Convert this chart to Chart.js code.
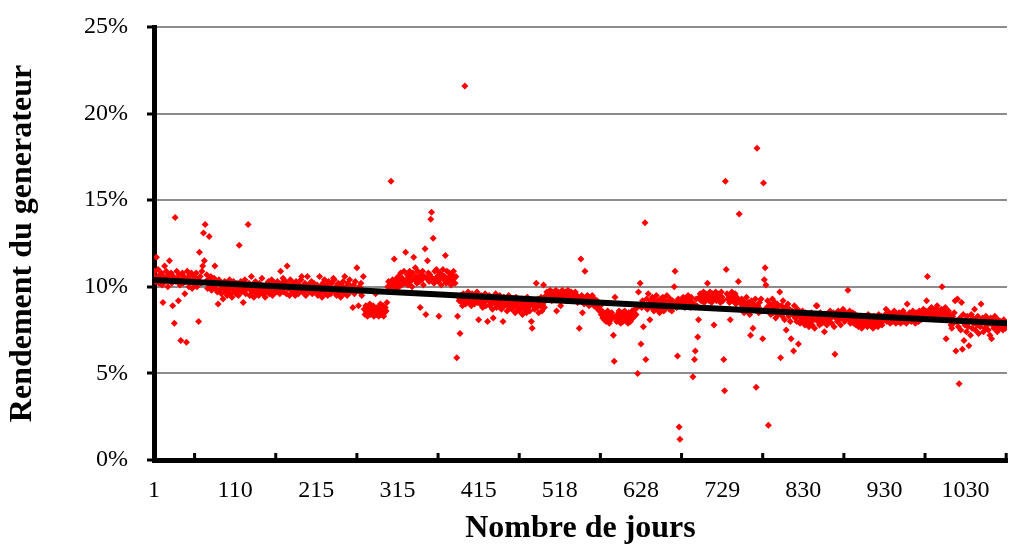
<!DOCTYPE html>
<html>
<head>
<meta charset="utf-8">
<script src="https://cdn.jsdelivr.net/npm/chart.js@4.4.0/dist/chart.umd.min.js"></script>
<style>
	html, body { margin: 0; padding: 0; background: #fff; }
	#wrap { width: 1011px; height: 548px; }
</style>
</head>
<body>
<div id="wrap"><canvas id="myChartRendement"></canvas></div>
<script>
// rendement du generateur (%), un point par jour
const rendement = [
	10.6,10.9,10.3,11.7,10.5,11.0,10.2,10.7,10.4,10.8, 10.1,9.1,10.6,11.2,10.3,10.9,10.5,10.0,10.7,11.5, 10.4,10.8,10.2,8.9,10.6,7.9,14.0,10.3,10.9,10.5, 9.2,10.7,10.1,6.9,10.4,10.8,10.2,10.6,9.6,10.3, 6.8,10.9,10.5,10.0,10.7,10.3,10.8,9.9,10.4,10.6,
	10.1,10.5,10.8,10.0,10.4,8.0,12.0,10.6,10.2,10.9, 11.2,13.1,11.5,13.6,10.3,10.7,9.9,10.4,12.9,10.1, 10.6,9.8,10.3,10.0,10.5,11.2,9.9,10.2,9.7,9.0, 10.4,9.8,10.1,9.6,10.0,9.3,9.9,10.3,9.7,10.0, 9.5,10.2,9.8,10.4,9.6,10.0,9.4,9.9,10.3,9.7,
	10.0,9.6,10.2,9.8,9.5,12.4,9.9,10.3,9.7,10.0, 9.1,9.8,10.4,9.6,10.1,9.9,13.6,10.2,9.5,9.8, 10.6,9.7,10.0,9.4,9.9,10.3,9.6,10.1,9.8,9.5, 10.2,9.9,9.7,10.5,9.6,10.0,9.8,9.4,10.1,9.7, 9.9,10.3,9.6,10.0,9.8,10.4,9.5,9.9,10.2,9.7,
	10.0,9.7,10.3,9.8,10.1,9.6,10.9,10.2,9.9,10.5, 9.7,10.0,10.3,9.6,11.2,9.9,10.1,9.5,10.4,9.8, 10.0,9.7,10.2,9.9,9.5,10.3,9.8,10.0,9.6,10.1, 9.9,10.4,10.6,9.7,10.0,9.8,10.2,9.5,9.9,10.6, 10.1,9.7,10.0,9.8,10.3,9.6,9.9,10.2,9.7,10.0,
	9.8,10.1,9.5,9.9,10.6,9.7,10.0,9.4,10.2,9.8, 10.4,9.6,9.9,10.1,9.5,10.3,9.8,10.0,9.6,10.2, 9.9,10.5,10.4,9.7,10.0,9.5,9.9,10.2,9.7,10.0, 9.4,10.1,9.8,10.3,9.6,10.6,9.9,10.0,9.5,10.2, 9.8,10.4,9.7,10.0,9.9,8.8,10.1,9.6,10.3,9.8,
	11.1,9.9,8.9,10.0,9.7,10.2,9.5,9.8,10.6,8.7, 8.4,8.9,8.5,8.3,8.8,8.6,9.0,8.4,8.7,8.5, 8.9,8.3,8.6,9.6,8.4,8.8,8.5,8.3,8.7,9.0, 8.4,8.6,8.9,8.3,8.5,8.8,8.6,9.1,10.0,10.3, 9.9,10.2,16.1,10.0,10.4,10.1,11.6,10.3,9.9,10.5,
	10.2,10.6,10.0,10.4,10.8,10.1,10.5,10.3,10.9,10.2, 12.0,10.4,10.7,10.1,10.5,10.9,10.3,10.6,10.0,10.8, 11.7,10.4,11.1,10.6,10.2,10.9,10.5,10.3,8.8,10.7, 10.4,10.9,10.1,10.6,12.2,8.4,10.5,11.5,10.8,10.3, 10.7,13.9,14.3,10.5,12.8,10.2,10.9,10.4,11.0,10.6,
	10.3,8.3,10.8,10.5,10.1,10.7,11.0,10.4,10.6,11.8, 10.2,10.9,10.5,10.3,10.8,10.6,10.1,10.7,10.4,10.9, 10.5,10.2,10.6,5.9,8.3,9.4,9.2,7.3,9.5,9.1, 8.9,9.6,9.3,21.6,9.0,9.5,9.2,9.7,9.1,9.4, 9.3,8.9,9.6,9.2,9.5,9.0,9.4,9.3,9.7,9.1,
	8.1,9.3,9.0,9.5,9.2,8.8,9.4,9.1,9.6,8.9, 9.3,8.0,9.2,9.5,8.9,9.1,9.4,8.7,8.2,9.2, 9.0,9.6,8.8,9.3,9.1,8.9,9.5,9.0,8.7,9.2, 8.0,9.4,8.9,9.1,9.3,8.6,9.0,9.5,8.8,9.2, 9.0,8.7,9.3,8.9,9.1,8.5,9.4,8.8,9.0,9.2,
	8.6,9.1,8.8,9.3,8.4,9.0,8.7,9.2,8.9,8.5, 9.4,8.8,9.1,8.6,9.0,8.0,7.6,8.9,9.2,8.7, 9.0,10.2,8.8,9.3,8.5,9.1,8.9,9.4,8.6,9.0, 10.1,8.8,9.2,9.5,9.7,9.3,9.6,9.4,9.8,9.5, 9.2,9.7,9.4,9.6,9.3,9.8,8.6,9.5,9.7,9.4,
	9.6,8.9,9.5,9.8,9.3,9.6,9.4,9.7,9.2,9.5, 9.8,9.4,9.6,9.3,9.7,9.5,9.2,9.6,9.4,9.7, 9.3,9.5,9.1,9.4,7.6,9.2,11.6,9.5,8.5,9.3, 9.0,10.9,9.4,9.1,9.5,9.2,8.9,9.4,9.3,9.0, 9.5,9.2,8.9,9.3,9.1,8.8,9.2,8.7,9.0,8.6,
	8.9,8.4,8.6,8.2,8.5,8.1,8.4,8.0,8.3,8.6, 8.2,7.9,8.4,8.1,8.5,8.3,7.2,5.7,9.4,8.2, 8.0,8.4,8.1,8.6,8.3,7.9,8.2,8.5,8.0,8.3, 8.6,8.1,8.4,8.2,7.9,8.5,8.3,8.0,8.4,8.6, 8.2,8.5,8.3,8.7,8.4,8.8,5.0,9.7,8.9,10.2,
	6.7,8.8,9.2,7.7,8.9,13.7,5.8,9.3,8.7,9.6, 9.0,8.1,9.2,8.8,9.4,9.3,8.6,9.1,8.9,9.5, 8.7,9.2,9.0,8.5,9.3,8.8,9.1,9.4,8.6,9.0, 9.2,8.8,9.5,8.9,9.1,8.7,9.3,9.0,8.6,9.2, 8.9,10.0,10.9,9.1,8.8,6.0,9.3,1.9,1.2,9.0,
	9.2,8.9,9.4,9.0,8.8,9.3,9.1,8.9,9.5,9.0, 9.2,8.8,9.4,9.1,4.8,9.0,5.8,6.3,9.3,8.9, 7.1,8.1,9.4,9.6,9.2,9.5,9.3,9.7,9.1,9.4, 9.6,9.3,10.2,9.5,9.2,9.7,9.4,9.1,9.6,9.3, 7.8,9.5,9.7,9.2,9.4,9.6,9.3,9.5,9.1,9.7,
	9.4,9.2,5.8,4.0,16.1,11.0,9.6,9.3,9.5,9.1, 8.1,9.4,9.7,9.2,9.5,9.3,9.6,9.0,9.4,9.2, 10.3,14.2,9.1,8.7,9.3,8.9,9.2,8.5,9.0,8.8, 9.4,8.6,9.1,8.9,8.4,7.2,9.2,8.7,7.6,9.0, 8.8,9.3,4.2,18.0,8.9,8.5,9.1,8.7,9.3,8.6,
	7.0,16.0,10.4,11.1,10.1,8.8,9.2,2.0,8.6,9.0, 8.4,8.9,9.3,8.5,8.7,9.1,8.2,8.8,9.0,8.4, 8.6,9.7,5.9,8.9,8.3,9.2,8.7,8.1,8.8,7.5, 8.5,9.0,8.3,8.7,8.0,7.0,8.6,8.4,6.3,8.9, 8.2,8.5,8.0,8.7,6.7,8.3,7.9,8.4,8.1,8.6,
	8.0,8.3,7.8,8.5,8.1,7.9,8.4,7.7,8.2,8.0, 8.5,7.8,8.3,8.1,7.6,8.4,8.9,8.9,8.0,8.2, 7.8,8.5,8.1,7.9,8.3,8.0,7.4,8.2,8.4,7.8, 8.1,8.4,8.0,8.6,8.2,7.9,8.3,8.5,7.7,6.1, 8.2,8.4,8.0,8.6,8.1,8.3,7.8,8.5,8.2,8.7,
	8.3,8.0,8.5,8.2,8.4,9.8,8.1,8.6,7.9,8.3, 8.2,8.5,7.9,8.1,8.4,7.8,8.2,8.0,7.7,8.3, 7.9,8.1,7.6,8.2,8.0,7.8,8.3,7.9,8.1,7.7, 8.4,8.0,7.8,8.2,7.9,8.1,7.6,8.3,8.0,7.8, 8.2,8.0,7.7,8.4,7.9,8.1,8.3,7.8,8.0,8.2,
	8.1,8.4,8.7,8.0,8.3,8.1,8.5,7.9,8.2,8.4, 8.0,8.3,8.6,8.1,7.9,8.4,8.2,8.0,8.5,8.2, 7.9,8.3,8.1,8.6,8.0,8.4,8.2,7.9,9.0,8.3, 8.1,8.5,8.2,8.0,8.4,8.6,8.1,8.3,7.9,8.5, 8.2,8.4,8.0,8.6,8.3,8.1,8.5,8.2,8.7,8.4,
	8.3,8.6,9.2,10.6,8.5,8.2,8.7,8.4,8.8,8.3, 8.5,8.6,8.2,8.7,8.4,8.9,8.3,8.6,8.5,8.2, 8.7,10.0,8.4,8.6,8.3,8.8,7.0,8.5,8.2,8.6, 8.4,8.1,7.8,7.6,8.3,7.9,8.5,9.2,6.3,8.0, 9.3,7.7,4.4,8.2,7.5,9.1,6.4,8.4,6.9,7.8,
	8.1,7.4,8.3,7.7,6.6,8.0,7.2,8.4,7.6,8.2, 7.9,8.7,7.5,8.1,7.8,8.3,7.3,8.0,7.7,9.0, 7.9,8.2,7.4,8.0,7.6,8.3,7.8,8.1,7.5,7.9, 7.2,8.2,7.0,7.8,8.0,7.6,8.3,7.7,7.9,7.4, 8.1,7.8,7.6,8.0,7.7,7.9,7.5,8.1,7.8,7.6,
	7.9,7.7
];

// jours affiches sous l'axe (un tous les 100 points)
const tickLabels = ["1", "110", "215", "315", "415", "518", "628", "729", "830", "930", "1030"];

// courbe de tendance lineaire (debut, fin)
const tendance = [10.4, 7.9];

const dernier = rendement.length - 1;

// petits traits vers l'interieur sur l'axe des x
const ticksInternes = {
	id: "ticksInternes",
	afterDraw(chart) {
		const x = chart.scales.x;
		const c = chart.ctx;
		const bas = chart.chartArea.bottom;
		c.save();
		c.fillStyle = "#000";
		for (let v = 50; v <= x.max; v += 100) {
			const px = x.getPixelForValue(v);
			c.fillRect(px - 1.5, bas - 7, 3, 7);
		}
		c.restore();
	}
};

const ctx = document.getElementById("myChartRendement");

new Chart(ctx, {
	type: "scatter",
	data: {
		datasets: [
			{
				type: "line",
				data: [
					{ x: 0, y: tendance[0] },
					{ x: dernier, y: tendance[1] }
				],
				borderColor: "#000",
				borderWidth: 6,
				borderCapStyle: "butt",
				pointRadius: 0,
				order: 0
			},
			{
				label: "rendement",
				data: rendement.map((y, i) => ({ x: i, y: y })),
				pointStyle: "rectRot",
				pointRadius: 3.5,
				backgroundColor: "#ff0000",
				borderColor: "#ff0000",
				borderWidth: 0,
				order: 1
			}
		]
	},
	options: {
		responsive: true,
		maintainAspectRatio: false,
		animation: false,
		layout: {
			padding: { top: 27, right: 0, bottom: 0, left: 0 }
		},
		plugins: {
			legend: { display: false },
			tooltip: { enabled: false }
		},
		scales: {
			x: {
				type: "linear",
				min: 0,
				max: dernier,
				grid: { display: true, color: "rgba(0,0,0,0)", drawTicks: false },
				border: { display: true, color: "#000", width: 5 },
				afterBuildTicks: (s) => {
					s.ticks = tickLabels.map((t, i) => ({ value: i * 100 }));
				},
				ticks: {
					autoSkip: false,
					maxRotation: 0,
					padding: 16,
					color: "#000",
					font: { family: "Liberation Serif", size: 24 },
					callback: (v, i) => tickLabels[i]
				},
				title: {
					display: true,
					text: "Nombre de jours",
					color: "#000",
					font: { family: "Liberation Serif", size: 32, weight: "bold" },
					padding: { top: 0, bottom: 0 }
				},
				afterFit: (s) => { s.height = 88; }
			},
			y: {
				min: 0,
				max: 25,
				ticks: {
					stepSize: 5,
					padding: 19,
					color: "#000",
					font: { family: "Liberation Serif", size: 24 },
					callback: (v) => v + "%"
				},
				grid: { color: "#8c8c8c", lineWidth: 2, tickColor: "#000", tickLength: 7, tickWidth: 3 },
				border: { display: true, color: "#000", width: 5 },
				title: {
					display: true,
					text: "Rendement du generateur",
					color: "#000",
					font: { family: "Liberation Serif", size: 32, weight: "bold" },
					padding: { top: 4, bottom: 0 }
				},
				afterFit: (s) => {
					s.width = 154;
					s.paddingTop = 0;
					s.paddingBottom = 0;
				}
			}
		}
	},
	plugins: [ticksInternes]
});
</script>
</body>
</html>
